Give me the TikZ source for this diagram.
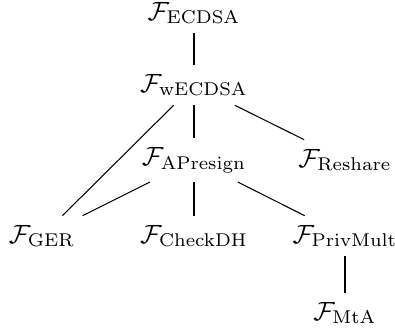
\documentclass[tikz,border=0pt]{standalone}
\begin{document}
\begin{tikzpicture}[x=0.379pt,y=-0.379pt,
  func/.style={inner sep=3.33pt},
  link/.style={draw=black, line width=0.4pt}]
\useasboundingbox (0,0) rectangle (395,333);
\node[func] (ecdsa) at (194,13) {$\mathcal{F}_{\mathrm{ECDSA}}$};
\node[func] (wecdsa) at (194,85) {$\mathcal{F}_{\mathrm{wECDSA}}$};
\node[func] (apre) at (194,160) {$\mathcal{F}_{\mathrm{APresign}}$};
\node[func] (reshare) at (345,160) {$\mathcal{F}_{\mathrm{Reshare}}$};
\node[func] (ger) at (42,236) {$\mathcal{F}_{\mathrm{GER}}$};
\node[func] (check) at (194,236) {$\mathcal{F}_{\mathrm{CheckDH}}$};
\node[func] (priv) at (345,236) {$\mathcal{F}_{\mathrm{PrivMult}}$};
\node[func] (mta) at (345,313) {$\mathcal{F}_{\mathrm{MtA}}$};
\draw[link] (ecdsa) -- (wecdsa);
\draw[link] (wecdsa) -- (apre);
\draw[link] (wecdsa) -- (reshare);
\draw[link] (wecdsa) -- (ger);
\draw[link] (apre) -- (ger);
\draw[link] (apre) -- (check);
\draw[link] (apre) -- (priv);
\draw[link] (priv) -- (mta);
\end{tikzpicture}
\end{document}
